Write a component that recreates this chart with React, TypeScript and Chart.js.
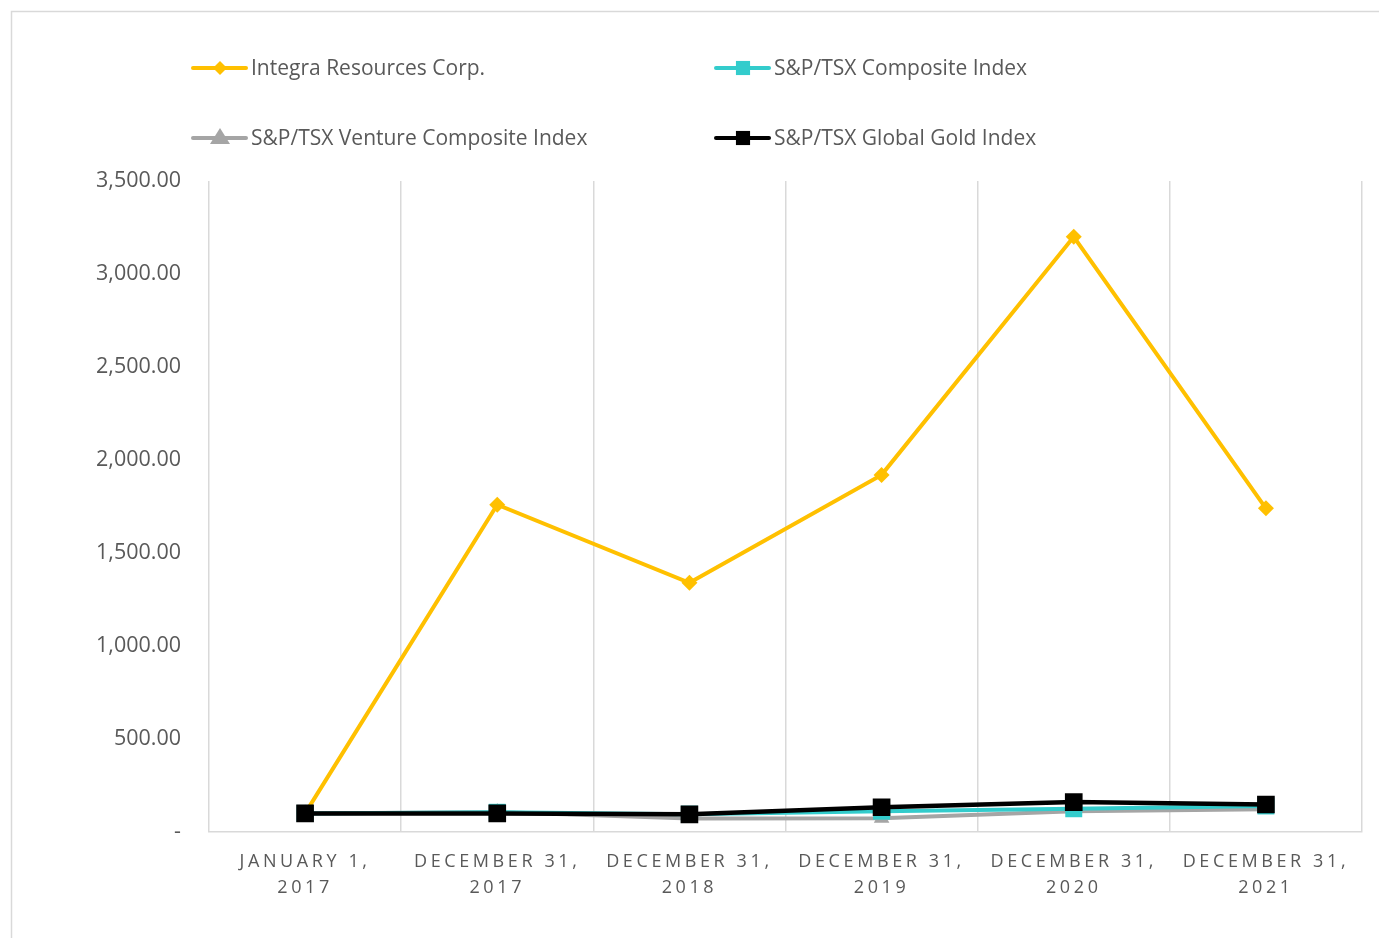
import React, { useEffect, useRef } from "react";
import { Chart, registerables } from "chart.js";

Chart.register(...registerables);

const categories: string[][] = [
  ["JANUARY 1,", "2017"],
  ["DECEMBER 31,", "2017"],
  ["DECEMBER 31,", "2018"],
  ["DECEMBER 31,", "2019"],
  ["DECEMBER 31,", "2020"],
  ["DECEMBER 31,", "2021"],
];

const seriesNames = [
  "Integra Resources Corp.",
  "S&P/TSX Composite Index",
  "S&P/TSX Venture Composite Index",
  "S&P/TSX Global Gold Index",
];

const integra = [100, 1760, 1340, 1920, 3200, 1740];
const composite = [100, 106, 96, 112, 125, 140];
const venture = [100, 108, 72, 74, 112, 122];
const globalGold = [100, 100, 95, 133, 161, 148];

const yTicks = [0, 500, 1000, 1500, 2000, 2500, 3000, 3500];

const FONT = "'Open Sans', sans-serif";
const TEXT = "#595959";

function drawMarker(ctx: any, style: string, r: number, x: number, y: number) {
  ctx.beginPath();
  if (style === "rectRot") {
    ctx.moveTo(x, y - r);
    ctx.lineTo(x + r, y);
    ctx.lineTo(x, y + r);
    ctx.lineTo(x - r, y);
  } else if (style === "triangle") {
    ctx.moveTo(x, y - r);
    ctx.lineTo(x + r, y + r * 0.6);
    ctx.lineTo(x - r, y + r * 0.6);
  } else {
    const s = r * 0.707;
    ctx.rect(x - s, y - s, 2 * s, 2 * s);
  }
  ctx.closePath();
  ctx.fill();
}

const legendPlugin = {
  id: "customLegend",
  afterDraw(chart: any) {
    const ctx = chart.ctx;
    const cols = [193, 716];
    const rows = [68, 138];
    ctx.save();
    ctx.strokeStyle = "#d9d9d9";
    ctx.lineWidth = 1.5;
    ctx.strokeRect(11.5, 11.5, 1500, 1000);
    chart.data.datasets.forEach((ds: any, i: number) => {
      const x = cols[i % 2];
      const y = rows[Math.floor(i / 2)];
      ctx.strokeStyle = ds.borderColor;
      ctx.lineWidth = 4;
      ctx.lineCap = "round";
      ctx.beginPath();
      ctx.moveTo(x, y);
      ctx.lineTo(x + 53, y);
      ctx.stroke();
      ctx.fillStyle = ds.pointBackgroundColor;
      const style = ds.pointStyle;
      const r = style === "rectRot" ? 7 : 10;
      drawMarker(ctx, style, r, x + 27, y);
      ctx.fillStyle = TEXT;
      ctx.font = `21px ${FONT}`;
      ctx.textBaseline = "middle";
      ctx.textAlign = "left";
      ctx.fillText(ds.label, x + 58, y + 1);
    });
    ctx.restore();
  },
};

export default function App() {
  const ref = useRef<HTMLCanvasElement>(null);
  useEffect(() => {
    if (!ref.current) return;
    const mk = (label: string, data: number[], color: string, style: string, radius: number, width: number, order: number) => ({
      label,
      data,
      borderColor: color,
      backgroundColor: color,
      pointBackgroundColor: color,
      pointBorderColor: color,
      pointStyle: style,
      pointRadius: radius,
      pointBorderWidth: 0,
      borderWidth: width,
      tension: 0,
      order,
    });
    const chart = new Chart(ref.current, {
      type: "line",
      data: {
        labels: categories,
        datasets: [
          mk(seriesNames[0], integra, "#FFC000", "rectRot", 8, 4, 2),
          mk(seriesNames[1], composite, "#33CCCC", "rect", 12, 4, 1),
          mk(seriesNames[2], venture, "#A5A5A5", "triangle", 9, 4, 3),
          mk(seriesNames[3], globalGold, "#000000", "rect", 12.5, 4.5, 0),
        ] as any,
      },
      options: {
        animation: false,
        responsive: false,
        layout: { padding: { left: 0, right: 17, top: 181, bottom: 0 } },
        plugins: { legend: { display: false }, tooltip: { enabled: false } },
        scales: {
          x: {
            offset: true,
            grid: { display: true, offset: true, color: "#d9d9d9", lineWidth: 1.5, drawTicks: false },
            border: { display: true, color: "#d9d9d9", width: 1.5 },
            ticks: {
              color: TEXT,
              font: { family: FONT, size: 18, lineHeight: 1.45 } as any,
              padding: 17,
              maxRotation: 0,
              autoSkip: false,
            },
            afterFit(scale: any) {
              scale.height = 106;
            },
          },
          y: {
            min: 0,
            max: 3500,
            afterBuildTicks(scale: any) {
              scale.ticks = yTicks.map((v) => ({ value: v }));
            },
            grid: { display: false, drawTicks: false },
            border: { display: false },
            ticks: {
              color: TEXT,
              font: { family: FONT, size: 21.5 },
              padding: 28,
              callback: (v: any) =>
                Number(v) === 0
                  ? "-"
                  : Number(v).toLocaleString("en-US", { minimumFractionDigits: 2, maximumFractionDigits: 2 }),
            },
            afterFit(scale: any) {
              scale.width = 209;
            },
          },
        },
      },
      plugins: [
        legendPlugin,
        {
          id: "xLetterSpacing",
          afterLayout(chart: any) {
            const sx = chart.scales.x;
            if (sx && !sx.__patched) {
              const orig = sx.drawLabels;
              sx.drawLabels = function (ca: any) {
                const c = this.ctx;
                c.save();
                (c as any).letterSpacing = "3.6px";
                orig.call(this, ca);
                c.restore();
              };
              sx.__patched = true;
            }
          },
        },
      ],
    } as any);
    return () => chart.destroy();
  }, []);
  return (
    <div style={{ position: "fixed", left: 0, top: 0, width: 1379, height: 938, background: "#fff" }}>
      <canvas ref={ref} width={1379} height={938} style={{ display: "block" }} />
    </div>
  );
}
